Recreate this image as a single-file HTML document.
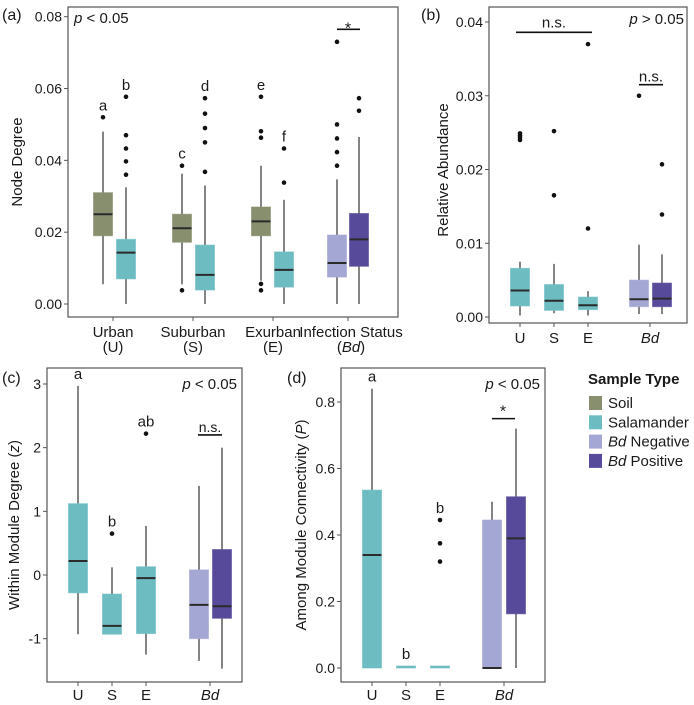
<!DOCTYPE html>
<html><head><meta charset="utf-8"><style>
body{margin:0;background:#fff;}
svg text{font-family:"Liberation Sans",sans-serif;fill:#1a1a1a;}
</style></head><body>
<svg id="fig" width="694" height="700" viewBox="0 0 694 700" xmlns="http://www.w3.org/2000/svg"></svg>
<script>
// ---- Panel (a) data: node degree ----
const aGroups = ["Urban soil","Urban salamander","Suburban soil","Suburban salamander","Exurban soil","Exurban salamander","Bd negative","Bd positive"];
const aLow  = [0.0055,0,0.0055,0,0.0065,0,0,0];
const aQ1   = [0.019,0.007,0.0172,0.0039,0.019,0.0047,0.0075,0.0105];
const aMed  = [0.025,0.0143,0.0211,0.0081,0.023,0.0095,0.0114,0.018];
const aQ3   = [0.031,0.018,0.025,0.0164,0.027,0.0145,0.0192,0.0252];
const aHigh = [0.048,0.0325,0.0363,0.033,0.0385,0.029,0.0347,0.0465];
const aOut  = [[0.052],[0.036,0.0397,0.0433,0.047,0.0577],[0.0038,0.0385],[0.0368,0.045,0.049,0.053,0.0573],[0.0038,0.0056,0.0463,0.0481,0.0577],[0.0338,0.0433],[0.0385,0.0423,0.0461,0.05,0.073],[0.0538,0.0573]];
const aLetters = ["a","b","c","d","e","f","",""];
const aTicks = ["0.00","0.02","0.04","0.06","0.08"];
const aTickVals = [0,0.02,0.04,0.06,0.08];
// ---- Panel (b) data: relative abundance ----
const bLow  = [0.0002,0.0005,0.0002,0.0004,0.0004];
const bQ1   = [0.0015,0.0009,0.001,0.0014,0.0014];
const bMed  = [0.0036,0.0022,0.0016,0.0024,0.0025];
const bQ3   = [0.0066,0.0044,0.0027,0.005,0.0046];
const bHigh = [0.0075,0.0072,0.0035,0.0098,0.0085];
const bOut  = [[0.024,0.0243,0.0246,0.0249],[0.0165,0.0252],[0.012,0.037],[0.030],[0.0139,0.0207]];
const bTickVals = [0,0.01,0.02,0.03,0.04];
const bTicks = ["0.00","0.01","0.02","0.03","0.04"];
// ---- Panel (c) data: within module degree ----
const cLow  = [-0.93,-0.93,-1.25,-1.35,-1.47];
const cQ1   = [-0.28,-0.93,-0.92,-1.0,-0.68];
const cMed  = [0.22,-0.8,-0.05,-0.47,-0.49];
const cQ3   = [1.12,-0.3,0.13,0.08,0.4];
const cHigh = [2.97,0.12,0.77,1.4,2.0];
const cOut  = [[],[0.65],[2.22],[],[]];
const cLetters = ["a","b","ab","",""];
const cTickVals = [-1,0,1,2,3];
const cTicks = ["-1","0","1","2","3"];
// ---- Panel (d) data: among module connectivity ----
const dLow  = [0,0,0,0,0];
const dQ1   = [0,0,0,0,0.163];
const dMed  = [0.34,0.003,0.003,0,0.39];
const dQ3   = [0.535,0.006,0.006,0.445,0.515];
const dHigh = [0.84,0,0,0.5,0.72];
const dOut  = [[],[],[0.32,0.375,0.445],[],[]];
const dLetters = ["a","b","b","",""];
const dTickVals = [0,0.2,0.4,0.6,0.8];
const dTicks = ["0.0","0.2","0.4","0.6","0.8"];

const COL = {soil:"#878f6e", sal:"#6cbcc1", neg:"#a4a7d4", pos:"#574a9a"};
const svg = document.getElementById('fig');
const NS = "http://www.w3.org/2000/svg";
function mk(tag, attrs, parent){const e=document.createElementNS(NS,tag);for(const k in attrs)e.setAttribute(k,attrs[k]);(parent||svg).appendChild(e);return e;}
function txt(x,y,s,size,anchor,parent,extra){const t=mk('text',Object.assign({x:x,y:y,'font-size':size,'text-anchor':anchor||'middle'},extra||{}),parent);t.innerHTML=s;return t;}

function panel(name, fr, y0v, y1v, tickVals, tickLabels, xs, cols, bw, low,q1,med,q3,high,out,letters,letterSize){
  const g = mk('g',{});
  
  
  const sy = v => fr.y0v + (v - y0v)/(y1v - y0v)*(fr.y1v - fr.y0v);
  mk('rect',{x:fr.l,y:fr.t,width:fr.r-fr.l,height:fr.b-fr.t,fill:'none',stroke:'#555','stroke-width':1.2},g);
  tickVals.forEach((v,i)=>{
    const y=sy(v);
    mk('line',{x1:fr.l-4,x2:fr.l,y1:y,y2:y,stroke:'#555'},g);
    const t=txt(fr.l-6,y+5,tickLabels[i],14,'end',g);
    
    
  });
  xs.forEach((x,i)=>{
    const bg = mk('g',{},g);
    
    
    if(high[i]>q3[i]) mk('line',{x1:x,x2:x,y1:sy(q3[i]),y2:sy(high[i]),stroke:'#333','stroke-width':1.2},bg);
    if(low[i]<q1[i]) mk('line',{x1:x,x2:x,y1:sy(q1[i]),y2:sy(low[i]),stroke:'#333','stroke-width':1.2},bg);
    const hgt=Math.max(sy(q1[i])-sy(q3[i]),2);
    mk('rect',{x:x-bw/2,y:sy(q3[i]),width:bw,height:hgt,fill:cols[i],stroke:cols[i],'stroke-opacity':0.6,'stroke-width':1},bg);
    if(hgt>3) mk('line',{x1:x-bw/2,x2:x+bw/2,y1:sy(med[i]),y2:sy(med[i]),stroke:'#2b2b2b','stroke-width':2},bg);
    out[i].forEach(v=>mk('circle',{cx:x,cy:sy(v),r:2.3,fill:'#111'},bg));
    if(letters[i]){
      const top = Math.max(high[i], ...out[i], q3[i]);
      txt(x,sy(top)-7,letters[i],letterSize||15,'middle',g);
    }
  });
  return sy;
}

// Panel a
const axs=[103,126,182,205,261,284,337,359];
const acols=[COL.soil,COL.sal,COL.soil,COL.sal,COL.soil,COL.sal,COL.neg,COL.pos];
const syA = panel('panel-a-node-degree',{l:68,r:398,t:7,b:317,y0v:304,y1v:16.7},0,0.08,aTickVals,aTicks,axs,acols,19,aLow,aQ1,aMed,aQ3,aHigh,aOut,aLetters,15);
txt(2,20,'(a)',16,'start');
txt(74,23,'<tspan font-style="italic">p</tspan> &lt; 0.05',15,'start');
mk('line',{x1:337,x2:360,y1:syA(0.0765),y2:syA(0.0765),stroke:'#111','stroke-width':1.6});
txt(348,syA(0.0765)+4,'*',16,'middle');
[113,193,273,348].forEach(x=>mk('line',{x1:x,x2:x,y1:317,y2:321,stroke:'#555'}));
[["Urban","(U)",113],["Suburban","(S)",193],["Exurban","(E)",273],["Infection Status","(<tspan font-style=\"italic\">Bd</tspan>)",351]].forEach(d=>{txt(d[2],337,d[0],15);txt(d[2],352,d[1],15);});
txt(0,0,'Node Degree',15,'middle',null,{transform:'translate(22,162) rotate(-90)',});

// Panel b
const bxs=[520,554,588,639,662];
const bcols=[COL.sal,COL.sal,COL.sal,COL.neg,COL.pos];
const syB = panel('panel-b-relative-abundance',{l:489,r:687,t:7,b:323,y0v:317,y1v:22},0,0.04,bTickVals,bTicks,bxs,bcols,19,bLow,bQ1,bMed,bQ3,bHigh,bOut,["","","","",""]);
txt(421,20,'(b)',16,'start');
txt(684,24,'<tspan font-style="italic">p</tspan> &gt; 0.05',15,'end');
mk('line',{x1:516,x2:592,y1:syB(0.0386),y2:syB(0.0386),stroke:'#111','stroke-width':1.6});
txt(554,syB(0.0386)-5,'n.s.',15);
mk('line',{x1:639,x2:663,y1:syB(0.0315),y2:syB(0.0315),stroke:'#111','stroke-width':1.6});
txt(651,syB(0.0315)-3,'n.s.',15);
[[520,'U'],[554,'S'],[588,'E'],[650,'<tspan font-style="italic">Bd</tspan>']].forEach(d=>{mk('line',{x1:d[0],x2:d[0],y1:323,y2:327,stroke:'#555'});txt(d[0],343,d[1],15);});
txt(0,0,'Relative Abundance',15,'middle',null,{transform:'translate(448,170) rotate(-90)'});

// Panel c
const cxs=[78,112,146,199,222];
const syC = panel('panel-c-within-module-degree',{l:47,r:242,t:368,b:682,y0v:575,y1v:384},0,3,cTickVals,cTicks,cxs,bcols,19,cLow,cQ1,cMed,cQ3,cHigh,cOut,cLetters,15);
txt(2,383,'(c)',16,'start');
txt(237,389,'<tspan font-style="italic">p</tspan> &lt; 0.05',15,'end');
mk('line',{x1:198,x2:222,y1:syC(2.2),y2:syC(2.2),stroke:'#111','stroke-width':1.6});
txt(210,syC(2.2)-3,'n.s.',14);
[[78,'U'],[112,'S'],[146,'E'],[210,'<tspan font-style="italic">Bd</tspan>']].forEach(d=>{mk('line',{x1:d[0],x2:d[0],y1:682,y2:686,stroke:'#555'});txt(d[0],700,d[1],15);});
txt(0,0,'Within Module Degree (<tspan font-style="italic">z</tspan>)',15,'middle',null,{transform:'translate(19,525) rotate(-90)'});

// Panel d
const dxs=[372,406,440,492,516];
const syD = panel('panel-d-among-module-connectivity',{l:341,r:545,t:368,b:682,y0v:668,y1v:402},0,0.8,dTickVals,dTicks,dxs,bcols,19,dLow,dQ1,dMed,dQ3,dHigh,dOut,dLetters,15);
txt(287,383,'(d)',16,'start');
txt(540,389,'<tspan font-style="italic">p</tspan> &lt; 0.05',15,'end');
mk('line',{x1:492,x2:515,y1:syD(0.75),y2:syD(0.75),stroke:'#111','stroke-width':1.6});
txt(503,syD(0.75)-2,'*',16);
[[372,'U'],[406,'S'],[440,'E'],[504,'<tspan font-style="italic">Bd</tspan>']].forEach(d=>{mk('line',{x1:d[0],x2:d[0],y1:682,y2:686,stroke:'#555'});txt(d[0],700,d[1],15);});
txt(0,0,'Among Module Connectivity (<tspan font-style="italic">P</tspan>)',15,'middle',null,{transform:'translate(306,525) rotate(-90)'});

// Legend
const lg = mk('g',{});


txt(588,384,'Sample Type',15,'start',lg,{'font-weight':'bold'});
[[COL.soil,'Soil'],[COL.sal,'Salamander'],[COL.neg,'<tspan font-style="italic">Bd</tspan> Negative'],[COL.pos,'<tspan font-style="italic">Bd</tspan> Positive']].forEach((d,i)=>{
  const y=403+i*19.3;
  const e=mk('g',{},lg);
  
  
  mk('rect',{x:589,y:y-7,width:13,height:14,fill:d[0]},e);
  txt(608,y+5,d[1],15,'start',e);
});
</script>
</body></html>
